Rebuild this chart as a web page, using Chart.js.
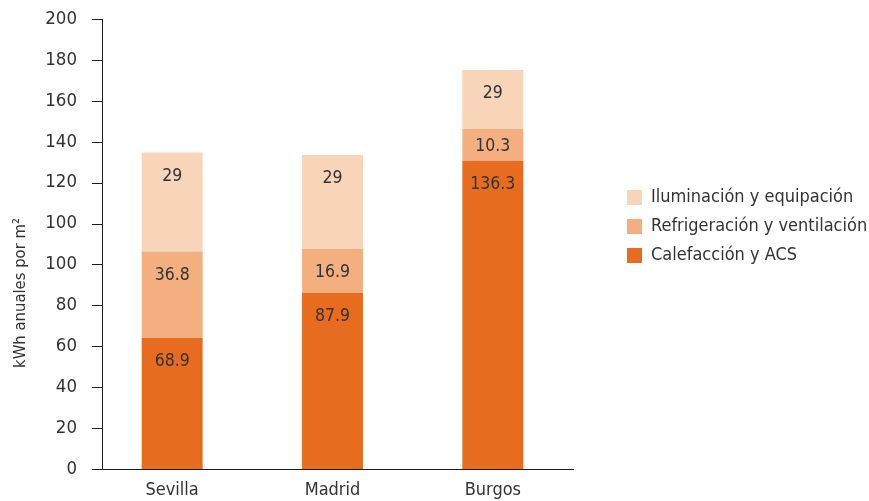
<!DOCTYPE html>
<html>
<head>
<meta charset="utf-8">
<script src="https://cdn.jsdelivr.net/npm/chart.js@4.4.0/dist/chart.umd.min.js"></script>
<style>
html,body{margin:0;padding:0;background:#ffffff;}
#wrap{width:869px;height:501px;}
</style>
</head>
<body>
<div id="wrap"><canvas id="c" width="869" height="501"></canvas></div>
<script>
// ---- data (values in axis units) ----
const categories = ['Sevilla', 'Madrid', 'Burgos'];
const seriesNames = ['Calefacción y ACS', 'Refrigeración y ventilación', 'Iluminación y equipación'];
const calefaccion = [64.2, 86.1, 150.6];
const refrigeracion = [42.1, 21.5, 15.7];
const iluminacion = [48.4, 45.9, 28.8];
const calefaccionLabels = ['68.9', '87.9', '136.3'];
const refrigeracionLabels = ['36.8', '16.9', '10.3'];
const iluminacionLabels = ['29', '29', '29'];
const yTickLabels = ['0', '20', '40', '60', '80', '100', '100', '120', '140', '160', '180', '200'];
const yTitle = 'kWh anuales por m²';
const seriesColors = ['#E86C20', '#F3AF80', '#F8D4B9'];

const FONT = "'Liberation Sans Narrow', 'DejaVu Sans Condensed', 'Liberation Sans', sans-serif";
const TXT = '#333333';
Chart.defaults.font.family = FONT;
Chart.defaults.color = TXT;

const valueLabels = [calefaccionLabels, refrigeracionLabels, iluminacionLabels];

const customPlugin = {
  id: 'custom',
  beforeDatasetsDraw(chart) {
    const {ctx, chartArea, scales} = chart;
    const y = scales.y;
    const ax = Math.round(chartArea.left + 10) + 0.5;
    ctx.save();
    ctx.strokeStyle = '#1e1e1e';
    ctx.lineWidth = 1;
    ctx.beginPath();
    ctx.moveTo(ax, y.getPixelForValue(y.max));
    ctx.lineTo(ax, y.getPixelForValue(0));
    y.ticks.forEach(t => {
      const py = Math.round(y.getPixelForValue(t.value)) + 0.5;
      ctx.moveTo(chartArea.left, py);
      ctx.lineTo(ax, py);
    });
    ctx.stroke();
    ctx.translate(21, 293);
    ctx.rotate(-Math.PI / 2);
    ctx.font = '16.5px ' + FONT;
    ctx.fillStyle = TXT;
    ctx.textAlign = 'center';
    ctx.textBaseline = 'middle';
    ctx.fillText(yTitle, 0, 0);
    ctx.restore();
  },
  afterDatasetsDraw(chart) {
    const {ctx} = chart;
    ctx.save();
    ctx.font = '17.5px ' + FONT;
    ctx.fillStyle = TXT;
    ctx.textAlign = 'center';
    ctx.textBaseline = 'alphabetic';
    chart.data.datasets.forEach((ds, di) => {
      const meta = chart.getDatasetMeta(di);
      meta.data.forEach((bar, i) => {
        const top = Math.min(bar.y, bar.base);
        const bottom = Math.max(bar.y, bar.base);
        const cy = Math.min(top + 22, (top + bottom) / 2);
        ctx.fillText(valueLabels[di][i], bar.x, cy + 6.4);
      });
    });
    ctx.restore();
  }
};

new Chart(document.getElementById('c'), {
  type: 'bar',
  data: {
    labels: categories,
    datasets: [
      {label: seriesNames[0], data: calefaccion, backgroundColor: seriesColors[0]},
      {label: seriesNames[1], data: refrigeracion, backgroundColor: seriesColors[1]},
      {label: seriesNames[2], data: iluminacion, backgroundColor: seriesColors[2]}
    ]
  },
  options: {
    responsive: false,
    animation: false,
    devicePixelRatio: 1,
    categoryPercentage: 0.38,
    barPercentage: 1,
    layout: {padding: {top: 19, left: 0, right: 0, bottom: 0}},
    plugins: {
      legend: {
        position: 'right',
        align: 'start',
        reverse: true,
        maxWidth: 253,
        title: {display: true, text: '', padding: {top: 148.5, bottom: 0}, font: {size: 10, lineHeight: 1}},
        labels: {boxWidth: 15, boxHeight: 15, padding: 11, color: TXT, font: {size: 18}}
      },
      tooltip: {enabled: false}
    },
    scales: {
      x: {
        stacked: true,
        grid: {display: false, drawTicks: false},
        border: {display: true, color: '#1e1e1e', width: 1},
        ticks: {padding: 11, color: TXT, font: {size: 18}},
        afterFit: s => { s.height = 32; s.paddingLeft = 0; s.paddingRight = 0; }
      },
      y: {
        stacked: true,
        min: 0,
        max: 220,
        grid: {display: false, drawTicks: false},
        border: {display: false},
        ticks: {stepSize: 20, padding: 15, color: TXT, font: {size: 18.5}, callback: (v, i) => yTickLabels[i]},
        afterFit: s => { s.width = 92; s.paddingTop = 0; s.paddingBottom = 0; }
      },
      gap: {
        position: 'right',
        display: true,
        grid: {display: false, drawTicks: false},
        border: {display: false},
        ticks: {display: false},
        afterFit: s => { s.width = 43; s.paddingTop = 0; s.paddingBottom = 0; }
      }
    }
  },
  plugins: [customPlugin]
});
</script>
</body>
</html>
